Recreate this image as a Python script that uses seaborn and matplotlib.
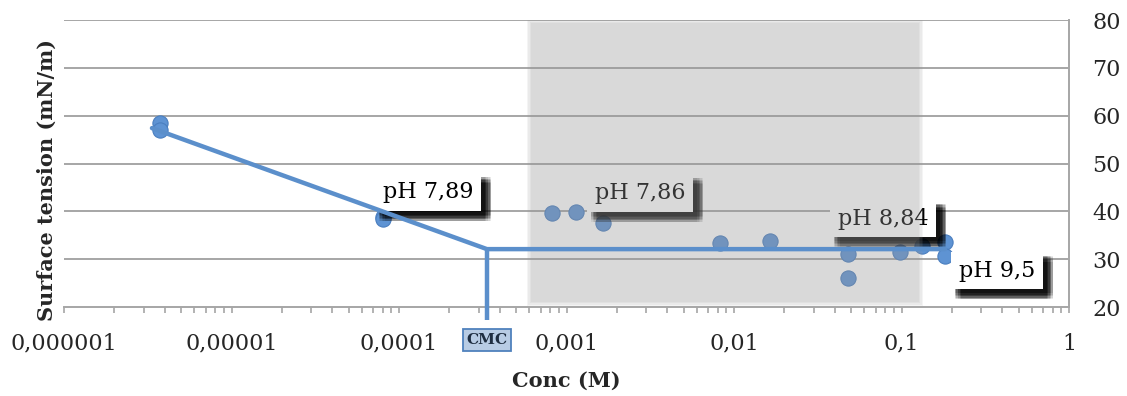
import numpy as np
import pandas as pd
import matplotlib
matplotlib.use("Agg")
import matplotlib.pyplot as plt
import matplotlib.patheffects as pe
from matplotlib.ticker import FixedLocator, LogLocator, NullFormatter
import seaborn as sns

# Measured surface tension against surfactant concentration
conc = [3.74e-6, 3.74e-6, 8.0e-5, 8.0e-5, 8.2e-4, 1.14e-3, 1.66e-3,
        8.2e-3, 1.64e-2, 4.8e-2, 4.8e-2, 9.8e-2, 1.32e-1, 1.82e-1, 1.82e-1]
tension = [58.4, 57.0, 38.9, 38.4, 39.6, 39.9, 37.5,
           33.4, 33.9, 31.1, 26.0, 31.4, 32.8, 33.6, 30.7]

# Two-segment fit: falling branch, then plateau above the CMC
fit_conc = [3.35e-6, 3.35e-4, 1.82e-1]
fit_tension = [57.4, 32.1, 32.1]
cmc_conc = 3.35e-4
cmc_floor = 17.3

# pH annotations (text, anchor conc, anchor tension)
ph_text = ["pH 7,89", "pH 7,86", "pH 8,84", "pH 9,5"]
ph_conc = [8.0e-5, 1.48e-3, 4.16e-2, 2.20e-1]
ph_tension = [44.0, 43.8, 38.5, 27.6]

# Shaded concentration window
band_lo, band_hi = 5.97e-4, 1.306e-1

x_ticks = [1e-6, 1e-5, 1e-4, 1e-3, 1e-2, 1e-1, 1]
x_ticklabels = ["0,000001", "0,00001", "0,0001", "0,001", "0,01", "0,1", "1"]
y_ticks = [20, 30, 40, 50, 60, 70, 80]

sns.set_theme(style="white")
plt.rcParams["font.family"] = ["DejaVu Serif"]

W, H = 1127, 396
fig = plt.figure(figsize=(W / 100, H / 100), dpi=100)
ax = fig.add_axes([64 / W, 1 - 307 / H, 1005 / W, 287 / H])
ax.set_xscale("log")
ax.set_xlim(1e-6, 1)
ax.set_ylim(20, 80)

grid_c = "#a6a6a6"
blue = "#5b8fcb"

for yv in y_ticks[1:]:
    ax.axhline(yv, color=grid_c, lw=1.4, zorder=1)

df = pd.DataFrame({"conc": conc, "tension": tension})
sns.scatterplot(data=df, x="conc", y="tension", ax=ax, s=120,
                color="#5e93d3", edgecolor="#4a7ebf", linewidth=0.8,
                zorder=3, legend=False)

# pH labels with a soft dark drop shadow
spread = np.linspace(-2.2, 2.2, 5)
shadow = [pe.SimplePatchShadow(offset=(5.0 + dx, -5.0 + dy),
                               shadow_rgbFace="black", alpha=0.09)
          for dx in spread for dy in spread] + [pe.Normal()]
for s, xc, yc in zip(ph_text, ph_conc, ph_tension):
    t = ax.text(xc, yc, s, ha="left", va="center", fontsize=16,
                color="black", zorder=4,
                bbox=dict(boxstyle="square,pad=0.35", fc="white", ec="none"))
    t.get_bbox_patch().set_path_effects(shadow)

# Translucent band with softened edges
dpx = 1 / 167.5
for k in range(4):
    off = (k - 1.5) * 1.2
    lo = band_lo * 10 ** (off * dpx)
    hi = band_hi * 10 ** (-off * dpx)
    ax.axvspan(lo, hi, ymin=0.0105 + off / 287, ymax=0.9965 - off / 287,
               facecolor="#9a9a9a", alpha=0.1, lw=0, zorder=4.5)

fit_df = pd.DataFrame({"conc": fit_conc, "tension": fit_tension})
sns.lineplot(data=fit_df, x="conc", y="tension", ax=ax, sort=False,
             color=blue, lw=3.2, zorder=6, estimator=None)
ax.plot([cmc_conc, cmc_conc], [fit_tension[1], cmc_floor], color=blue,
        lw=3.2, zorder=6, clip_on=False, solid_capstyle="butt")

ax.text(cmc_conc, 13.1, "CMC", ha="center", va="center", fontsize=11,
        fontweight="bold", color="#1e2d40", zorder=7, clip_on=False,
        bbox=dict(boxstyle="square,pad=0.25", fc="#b8cce4", ec="#4f81bd",
                  lw=1.3))

for side in ("left", "top"):
    ax.spines[side].set_visible(False)
for side in ("bottom", "right"):
    ax.spines[side].set_color(grid_c)
    ax.spines[side].set_linewidth(1.4)

ax.xaxis.set_major_locator(FixedLocator(x_ticks))
ax.set_xticklabels(x_ticklabels)
ax.xaxis.set_minor_locator(LogLocator(base=10, subs=np.arange(2, 10)))
ax.xaxis.set_minor_formatter(NullFormatter())
ax.tick_params(axis="x", which="both", direction="out", color=grid_c,
               width=1.2, length=4.5, bottom=True, labelsize=16, pad=14)

ax.yaxis.tick_right()
ax.set_yticks(y_ticks)
ax.tick_params(axis="y", which="both", length=0, labelsize=16, pad=17,
               right=True, left=False)

ax.set_xlabel("Conc (M)", fontsize=15, fontweight="bold")
ax.xaxis.set_label_coords(0.5, (307 - 381) / 287)
ax.xaxis.label.set_va("center")
ax.set_ylabel("Surface tension (mN/m)", fontsize=15, fontweight="bold")
ax.yaxis.set_label_position("left")
ax.yaxis.set_label_coords((47 - 64) / 1005, (307 - 180) / 287)
ax.yaxis.label.set_va("center")

fig.savefig("out.png", dpi=100)
